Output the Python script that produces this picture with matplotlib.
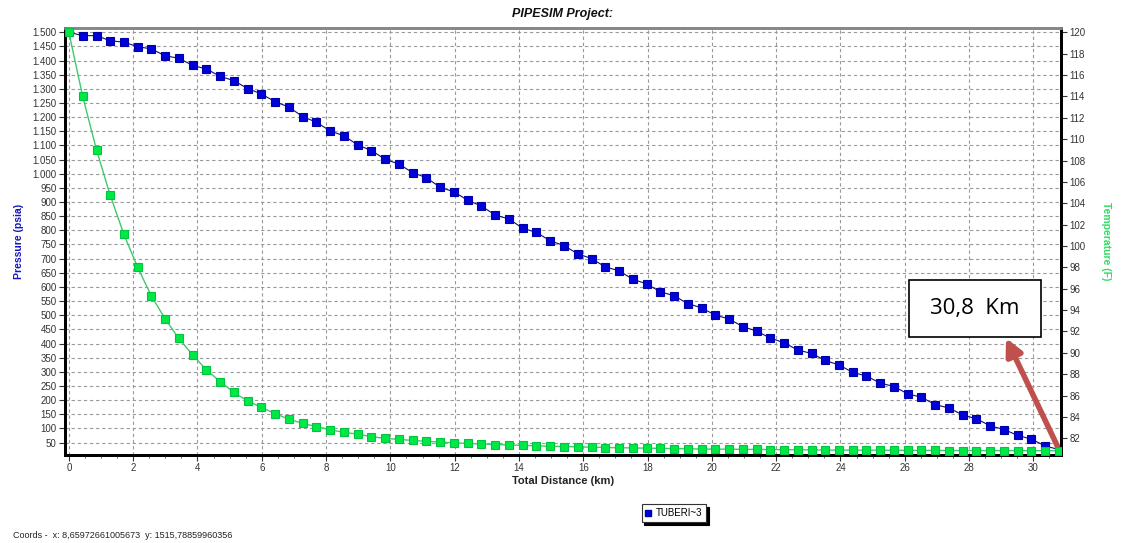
import matplotlib
matplotlib.use("Agg")
import matplotlib.pyplot as plt
from matplotlib.ticker import MultipleLocator, FuncFormatter
from matplotlib.lines import Line2D
from matplotlib.patches import Rectangle

plt.rcParams['font.family'] = ['Liberation Sans', 'DejaVu Sans']

# ---- data ----
distance_km = [0.00, 0.43, 0.86, 1.28, 1.71, 2.14, 2.57, 2.99, 3.42, 3.85,
               4.28, 4.71, 5.13, 5.56, 5.99, 6.42, 6.84, 7.27, 7.70, 8.13,
               8.56, 8.98, 9.41, 9.84, 10.27, 10.69, 11.12, 11.55, 11.98, 12.41,
               12.83, 13.26, 13.69, 14.12, 14.54, 14.97, 15.40, 15.83, 16.26, 16.68,
               17.11, 17.54, 17.97, 18.39, 18.82, 19.25, 19.68, 20.11, 20.53, 20.96,
               21.39, 21.82, 22.24, 22.67, 23.10, 23.53, 23.96, 24.38, 24.81, 25.24,
               25.67, 26.09, 26.52, 26.95, 27.38, 27.81, 28.23, 28.66, 29.09, 29.52,
               29.94, 30.37, 30.80]

pressure_psia = [1500, 1488, 1488, 1470, 1465, 1449, 1441, 1417, 1408, 1383,
                 1370, 1344, 1329, 1301, 1282, 1254, 1236, 1202, 1182, 1151,
                 1134, 1102, 1082, 1051, 1034, 1004, 986, 952, 936, 906,
                 886, 854, 840, 807, 793, 763, 746, 717, 700, 671,
                 657, 627, 611, 583, 569, 541, 526, 500, 487, 460,
                 444, 419, 403, 377, 365, 340, 324, 298, 285, 260,
                 248, 222, 210, 184, 172, 147, 134, 109, 96, 75,
                 62, 38, 25]

temperature_F = [120.0, 114.0, 109.0, 104.8, 101.1, 98.0, 95.3, 93.2, 91.35, 89.8,
                 88.4, 87.3, 86.3, 85.5, 84.9, 84.3, 83.8, 83.4, 83.1, 82.8,
                 82.55, 82.4, 82.15, 82.0, 81.9, 81.8, 81.72, 81.65, 81.58, 81.52,
                 81.47, 81.42, 81.38, 81.34, 81.30, 81.26, 81.23, 81.20, 81.17, 81.14,
                 81.12, 81.10, 81.08, 81.06, 81.04, 81.02, 81.00, 80.99, 80.98, 80.97,
                 80.96, 80.95, 80.94, 80.93, 80.92, 80.91, 80.90, 80.90, 80.89, 80.89,
                 80.88, 80.88, 80.87, 80.87, 80.86, 80.86, 80.86, 80.85, 80.85, 80.85,
                 80.85, 80.84, 80.84]

title = "PIPESIM Project:"
x_label = "Total Distance (km)"
y_label = "Pressure (psia)"
y2_label = "Temperature (F)"
series_name = "TUBERI~3"
annotation_text = "30,8  Km"
coords_text = "Coords -  x: 8,65972661005673  y: 1515,78859960356"

# ---- figure ----
W, H = 1122, 543
fig = plt.figure(figsize=(W / 100, H / 100), dpi=100)
L, R, T, B = 65, 1061, 28, 455
ax = fig.add_axes([L / W, 1 - B / H, (R - L) / W, (B - T) / H])
ax2 = ax.twinx()

blue_face = '#0000d8'
blue_edge = '#0000a8'
green_face = '#00e848'
green_edge = '#00c43c'

ax.plot(distance_km, pressure_psia, color='#10106a', lw=0.8,
        marker='s', ms=6.3, mfc=blue_face, mec=blue_edge, mew=0.8, zorder=3)
ax2.plot(distance_km, temperature_F, color='#40c870', lw=1.0,
         marker='s', ms=6.3, mfc=green_face, mec=green_edge, mew=0.8, zorder=3)

ax.set_xlim(-0.12, 30.86)
ax.set_ylim(6, 1515)
ax2.set_ylim(80.44, 120.4)

ax.xaxis.set_major_locator(MultipleLocator(2))
ax.xaxis.set_minor_locator(MultipleLocator(0.5))
ax.yaxis.set_major_locator(MultipleLocator(50))
ax2.yaxis.set_major_locator(MultipleLocator(2))
ax.yaxis.set_major_formatter(FuncFormatter(lambda v, p: f"{int(round(v)):,}".replace(',', '.')))
ax2.yaxis.set_major_formatter(FuncFormatter(lambda v, p: f"{int(round(v))}"))

ax.grid(True, which='major', axis='both', color='#9a9a9a', lw=0.8,
        linestyle=(0, (3, 2.5)))
ax.set_axisbelow(True)

tick_col = '#333333'
ax.tick_params(axis='both', which='major', labelsize=7, colors=tick_col,
               length=4, width=0.8, direction='out', pad=2)
ax.tick_params(axis='x', which='minor', length=2.5, width=0.6, colors='#555555')
ax2.tick_params(axis='y', which='major', labelsize=7, colors=tick_col,
                length=4, width=0.8, direction='out', pad=2)
for a in (ax, ax2):
    for s in ('left', 'right', 'bottom'):
        a.spines[s].set_color('black')
        a.spines[s].set_linewidth(2)
    a.spines['top'].set_color('#888888')
    a.spines['top'].set_linewidth(2)

ax.set_title(title, fontsize=9, fontweight='bold', fontstyle='italic',
             color='#111111', pad=8)
ax.set_xlabel(x_label, fontsize=8, fontweight='bold', color='#222222', labelpad=2)
ax.set_ylabel(y_label, fontsize=7.5, fontweight='bold', color='#1515c0', labelpad=6)
ax2.set_ylabel(y2_label, fontsize=7.5, fontweight='bold', color='#30dd60',
               rotation=270, labelpad=18)

# annotation box and arrow
bx0, by0, bx1, by1 = 909, 280, 1041, 337
fig.patches.append(Rectangle((bx0 / W, 1 - by1 / H), (bx1 - bx0) / W, (by1 - by0) / H,
                             transform=fig.transFigure, facecolor='white',
                             edgecolor='black', lw=1.2, zorder=10))
fig.text((bx0 + bx1) / 2 / W, 1 - (by0 + by1) / 2 / H, annotation_text,
         fontsize=16, family=['Open Sans', 'DejaVu Sans'], color='black',
         ha='center', va='center', zorder=11)
ax.annotate('', xy=((1006 - L) / (R - L), (B - 338) / (B - T)), xycoords='axes fraction',
            xytext=(distance_km[-1], pressure_psia[-1]), textcoords='data',
            arrowprops=dict(arrowstyle='-|>,head_length=1.0,head_width=0.5',
                            color='#c0504d', lw=4, shrinkA=0, shrinkB=0),
            annotation_clip=False, zorder=12)

# legend
handle = Line2D([], [], linestyle='none', marker='s', ms=4, mfc=blue_face, mec=blue_edge)
leg = fig.legend([handle], [series_name], loc='center',
                 bbox_to_anchor=(674 / W, 1 - 513 / H), fontsize=7,
                 frameon=True, fancybox=False, shadow={'color': 'black', 'alpha': 1.0},
                 edgecolor='#333333', handlelength=0.6, handletextpad=0.5,
                 borderpad=0.4, borderaxespad=0)
leg.get_frame().set_linewidth(0.8)

fig.text(13 / W, 1 - 536 / H, coords_text, fontsize=6.5, color='#222222',
         ha='left', va='center')

fig.savefig('out.png', dpi=100)
